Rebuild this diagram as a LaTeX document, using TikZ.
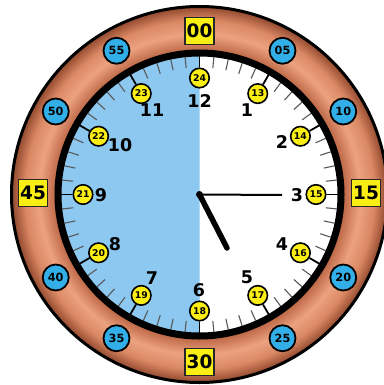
\documentclass[tikz,border=0pt]{standalone}
\usepackage{fontspec}
\setmainfont{DejaVu Sans}
\usetikzlibrary{calc}
\definecolor{copA}{RGB}{190,105,72}
\definecolor{copL}{RGB}{236,162,128}
\definecolor{copM}{RGB}{218,136,100}
\definecolor{copE}{RGB}{145,72,45}
\definecolor{dialblue}{RGB}{140,200,240}
\definecolor{bubblue}{RGB}{50,175,232}
\definecolor{yel}{RGB}{250,238,20}
\pgfdeclareradialshading{copperring}{\pgfpointorigin}{color(0bp)=(copA); color(19.2bp)=(copA); color(21.3bp)=(copL); color(23.2bp)=(copM); color(25bp)=(copE); color(50bp)=(copE)}
\begin{document}
\begin{tikzpicture}[x=1pt,y=1pt,
  hournum/.style={font=\bfseries\fontsize{17.5}{17.5}\selectfont, inner sep=0},
  ybub/.style={circle, draw=black, line width=1.6, fill=yel, minimum size=19.5, inner sep=0, font=\bfseries\fontsize{9.3}{9.3}\selectfont},
  bbub/.style={circle, draw=black, line width=1.8, fill=bubblue, minimum size=26, inner sep=0, font=\bfseries\fontsize{11.3}{11.3}\selectfont},
  ybox/.style={draw=black!85, line width=1.8, fill=yel, minimum width=29, minimum height=27, inner sep=0, font=\bfseries\fontsize{18.5}{18.5}\selectfont},
  mtick/.style={draw=black!65, line width=1.1},
  htick/.style={draw=black, line width=1.8},
  ]
\useasboundingbox (0,0) rectangle (383,-385);
\coordinate (c) at (199.5,-194.5);
% copper ring
\shade[shading=copperring] (c) circle (188);
\draw[line width=3] (c) circle (188);
% dial
\fill[white] (c) circle (141);
\fill[dialblue] ($(c)+(0,141)$) arc (90:270:141) -- cycle;
% minute ticks
\foreach \i in {1,...,59}{
  \pgfmathtruncatemacro\rem{mod(\i,5)}
  \ifnum\rem>0
    \draw[mtick] ($(c)+(90-6*\i:127)$) -- ($(c)+(90-6*\i:138)$);
  \fi
}
% black ring
\draw[line width=7] (c) circle (141.5);
% 24h bubbles with hour ticks
\foreach \h in {1,...,12}{
  \pgfmathtruncatemacro\n{12+\h}
  \pgfmathsetmacro\a{90-30*\h}
  \node[ybub] (y\n) at ($(c)+(\a:116.5)$) {\n};
  \coordinate (t\n) at ($(c)+(\a:139)$);
  \draw[htick] (y\n.\a) -- (t\n);
}
% minute bubbles
\foreach \m in {05,10,20,25,35,40,50,55}{
  \pgfmathsetmacro\a{90-6*\m}
  \node[bbub] (b\m) at ($(c)+(\a:166)$) {\m};
}
% quarter boxes
\node[ybox] (q00) at (199.5,-31) {00};
\node[ybox] (q15) at (366,-193) {15};
\node[ybox] (q30) at (199.5,-362) {30};
\node[ybox] (q45) at (33,-193) {45};
% hour numbers
\node[hournum] (h12) at (199.5,-101) {12};
\node[hournum] (h1) at (247,-110) {1};
\node[hournum] (h2) at (282,-142) {2};
\node[hournum] (h3) at (297,-195) {3};
\node[hournum] (h4) at (282,-244) {4};
\node[hournum] (h5) at (247,-277) {5};
\node[hournum] (h6) at (199,-290) {6};
\node[hournum] (h7) at (152,-278) {7};
\node[hournum] (h8) at (115,-244) {8};
\node[hournum] (h9) at (101,-195) {9};
\node[hournum] (h10) at (120,-145) {10};
\node[hournum] (h11) at (152,-110.5) {11};
% hands
\coordinate (mh) at (282,-195);
\coordinate (hh) at (227,-248);
\draw[line width=2] (c) -- (mh);
\draw[line width=5.5, line cap=round] (c) -- (hh);
\fill (c) circle (3.5);
\end{tikzpicture}
\end{document}
